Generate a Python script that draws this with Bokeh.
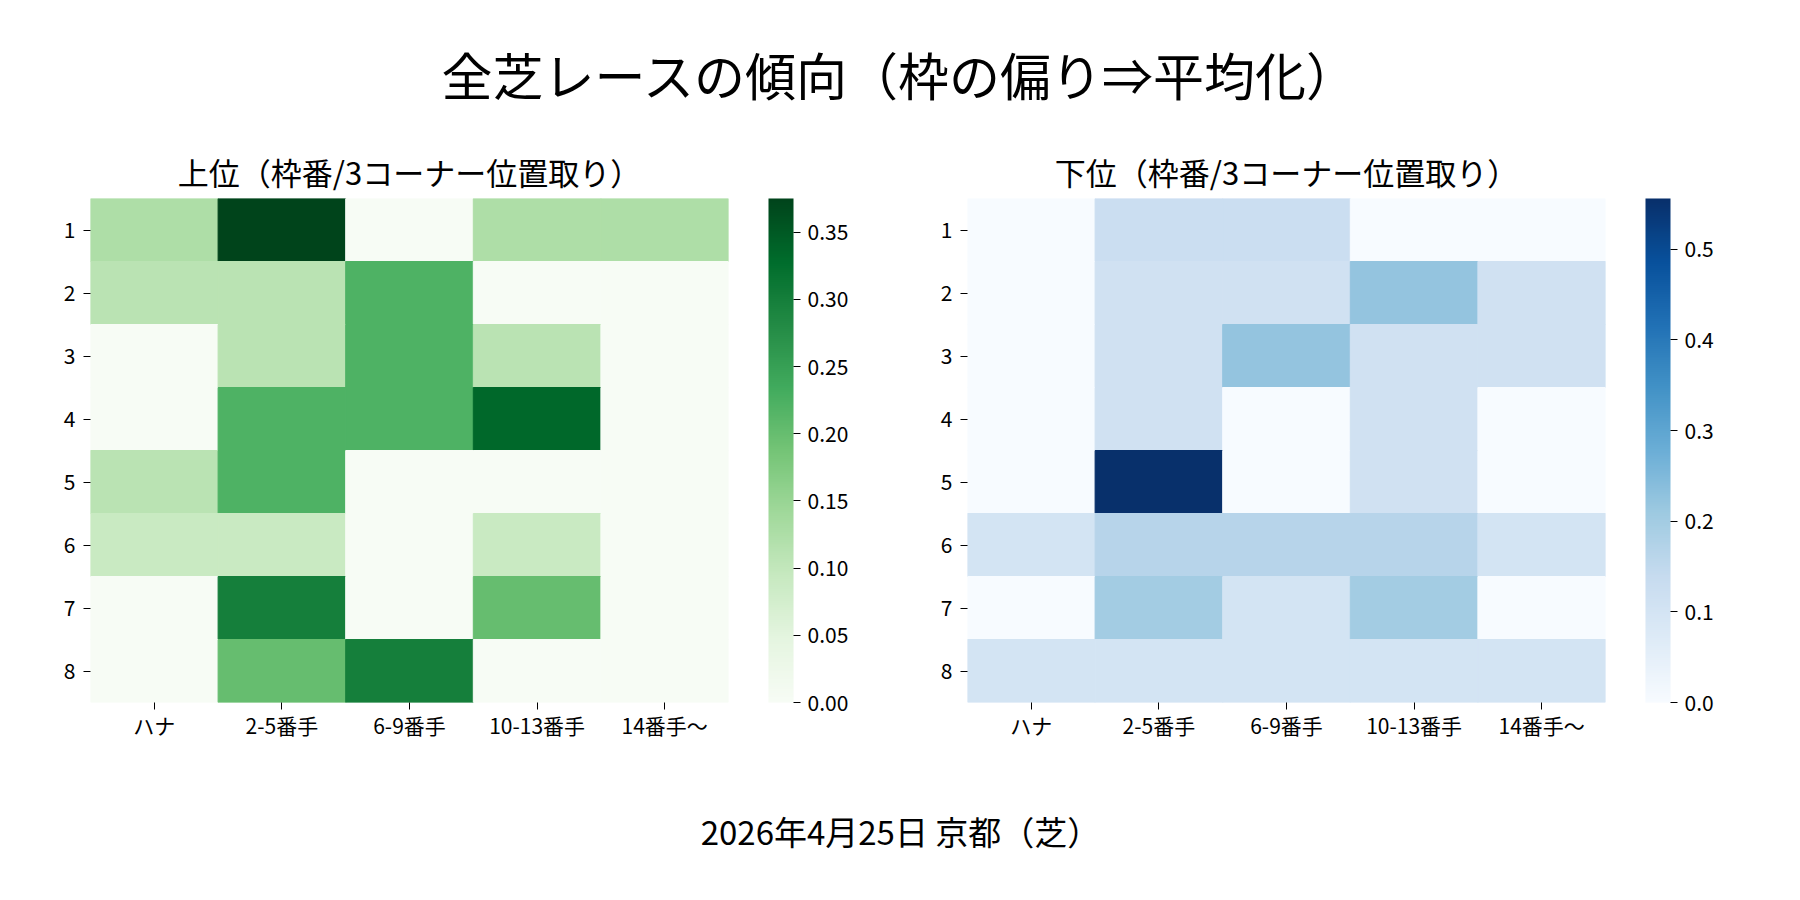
from bokeh.embed import file_html
from bokeh.layouts import column, row
from bokeh.models import (ColorBar, ColumnDataSource, FixedTicker, Label,
                          LinearColorMapper, PrintfTickFormatter, Range1d)
from bokeh.palettes import Blues256, Greens256
from bokeh.plotting import figure
from bokeh.resources import INLINE
from bokeh.transform import transform

FONT = "Noto Sans CJK JP"

suptitle = "全芝レースの傾向（枠の偏り⇒平均化）"
upper_title = "上位（枠番/3コーナー位置取り）"
lower_title = "下位（枠番/3コーナー位置取り）"
caption = "2026年4月25日 京都（芝）"

frames = ["1", "2", "3", "4", "5", "6", "7", "8"]
positions = ["ハナ", "2-5番手", "6-9番手", "10-13番手", "14番手〜"]

# rows = 枠番 1..8, columns = positions
upper_rate = [
    [0.125, 0.375, 0.0, 0.125, 0.125],
    [0.111, 0.111, 0.222, 0.0, 0.0],
    [0.0, 0.111, 0.222, 0.111, 0.0],
    [0.0, 0.222, 0.222, 0.333, 0.0],
    [0.111, 0.222, 0.0, 0.0, 0.0],
    [0.091, 0.091, 0.0, 0.091, 0.0],
    [0.0, 0.3, 0.0, 0.2, 0.0],
    [0.0, 0.2, 0.3, 0.0, 0.0],
]
lower_rate = [
    [0.0, 0.125, 0.125, 0.0, 0.0],
    [0.0, 0.111, 0.111, 0.222, 0.111],
    [0.0, 0.111, 0.222, 0.111, 0.111],
    [0.0, 0.111, 0.0, 0.111, 0.0],
    [0.0, 0.556, 0.0, 0.111, 0.0],
    [0.1, 0.167, 0.167, 0.167, 0.1],
    [0.0, 0.2, 0.1, 0.2, 0.0],
    [0.1, 0.1, 0.1, 0.1, 0.1],
]

green_ticks = [0.0, 0.05, 0.10, 0.15, 0.20, 0.25, 0.30, 0.35]
blue_ticks = [0.0, 0.1, 0.2, 0.3, 0.4, 0.5]


def light_first(pal):
    pal = list(pal)
    if int(pal[0][1:3], 16) < int(pal[-1][1:3], 16):
        pal.reverse()
    return pal


def heatmap(rates, palette, ticks, fmt, title, width, left, right):
    data = dict(frame=[], pos=[], rate=[])
    for i, f in enumerate(frames):
        for j, pos in enumerate(positions):
            data["frame"].append(f)
            data["pos"].append(pos)
            data["rate"].append(rates[i][j])
    source = ColumnDataSource(data)
    vals = [v for r in rates for v in r]
    mapper = LinearColorMapper(palette=light_first(palette), low=min(vals), high=max(vals))

    p = figure(width=width, height=640, x_range=positions, y_range=frames[::-1],
               title=title, output_backend="svg", toolbar_location=None,
               min_border_left=left, min_border_right=right,
               min_border_top=70, min_border_bottom=66)
    p.rect(x="pos", y="frame", width=1, height=1, source=source,
           fill_color=transform("rate", mapper),
           line_color=transform("rate", mapper), line_width=1)

    p.title.align = "center"
    p.title.text_font = FONT
    p.title.text_font_size = "31px"
    p.title.text_font_style = "normal"
    p.title.text_color = "black"

    p.grid.grid_line_color = None
    p.outline_line_color = None
    p.axis.axis_line_color = None
    p.axis.major_tick_in = 0
    p.axis.major_tick_out = 7
    p.axis.major_tick_line_color = "black"
    p.axis.minor_tick_line_color = None
    p.axis.major_label_text_font = FONT
    p.axis.major_label_text_font_size = "21px"
    p.axis.major_label_text_color = "black"
    p.yaxis.major_label_standoff = 8
    p.xaxis.major_label_standoff = 0

    cb = ColorBar(color_mapper=mapper, width=25, height=504,
                  location=(40, 0), padding=0, margin=0,
                  ticker=FixedTicker(ticks=ticks),
                  formatter=PrintfTickFormatter(format=fmt),
                  major_tick_out=7, major_tick_in=0,
                  major_tick_line_color="black",
                  bar_line_color=None, border_line_color=None,
                  background_fill_color=None,
                  label_standoff=7,
                  major_label_text_font=FONT,
                  major_label_text_font_size="21px",
                  major_label_text_color="black")
    p.add_layout(cb, "right")
    return p


def text_strip(text, height, y_from_top, size):
    p = figure(width=1800, height=height, x_range=Range1d(0, 1800), y_range=Range1d(0, height),
               output_backend="svg", toolbar_location=None,
               x_axis_location=None, y_axis_location=None, min_border=0)
    p.grid.grid_line_color = None
    p.outline_line_color = None
    p.add_layout(Label(x=900, y=height - y_from_top, text=text, text_align="center",
                       text_baseline="middle", text_font=FONT, text_font_size=size,
                       text_color="black"))
    return p


head = text_strip(suptitle, 128, 73, "51px")
p1 = heatmap(upper_rate, Greens256, green_ticks, "%.2f", upper_title, 888, 90, 160)
p2 = heatmap(lower_rate, Blues256, blue_ticks, "%.1f", lower_title, 912, 79, 195)
foot = text_strip(caption, 132, 62, "33px")

page = column(head, row(p1, p2), foot)
open("out.html", "w").write(file_html(page, INLINE))
